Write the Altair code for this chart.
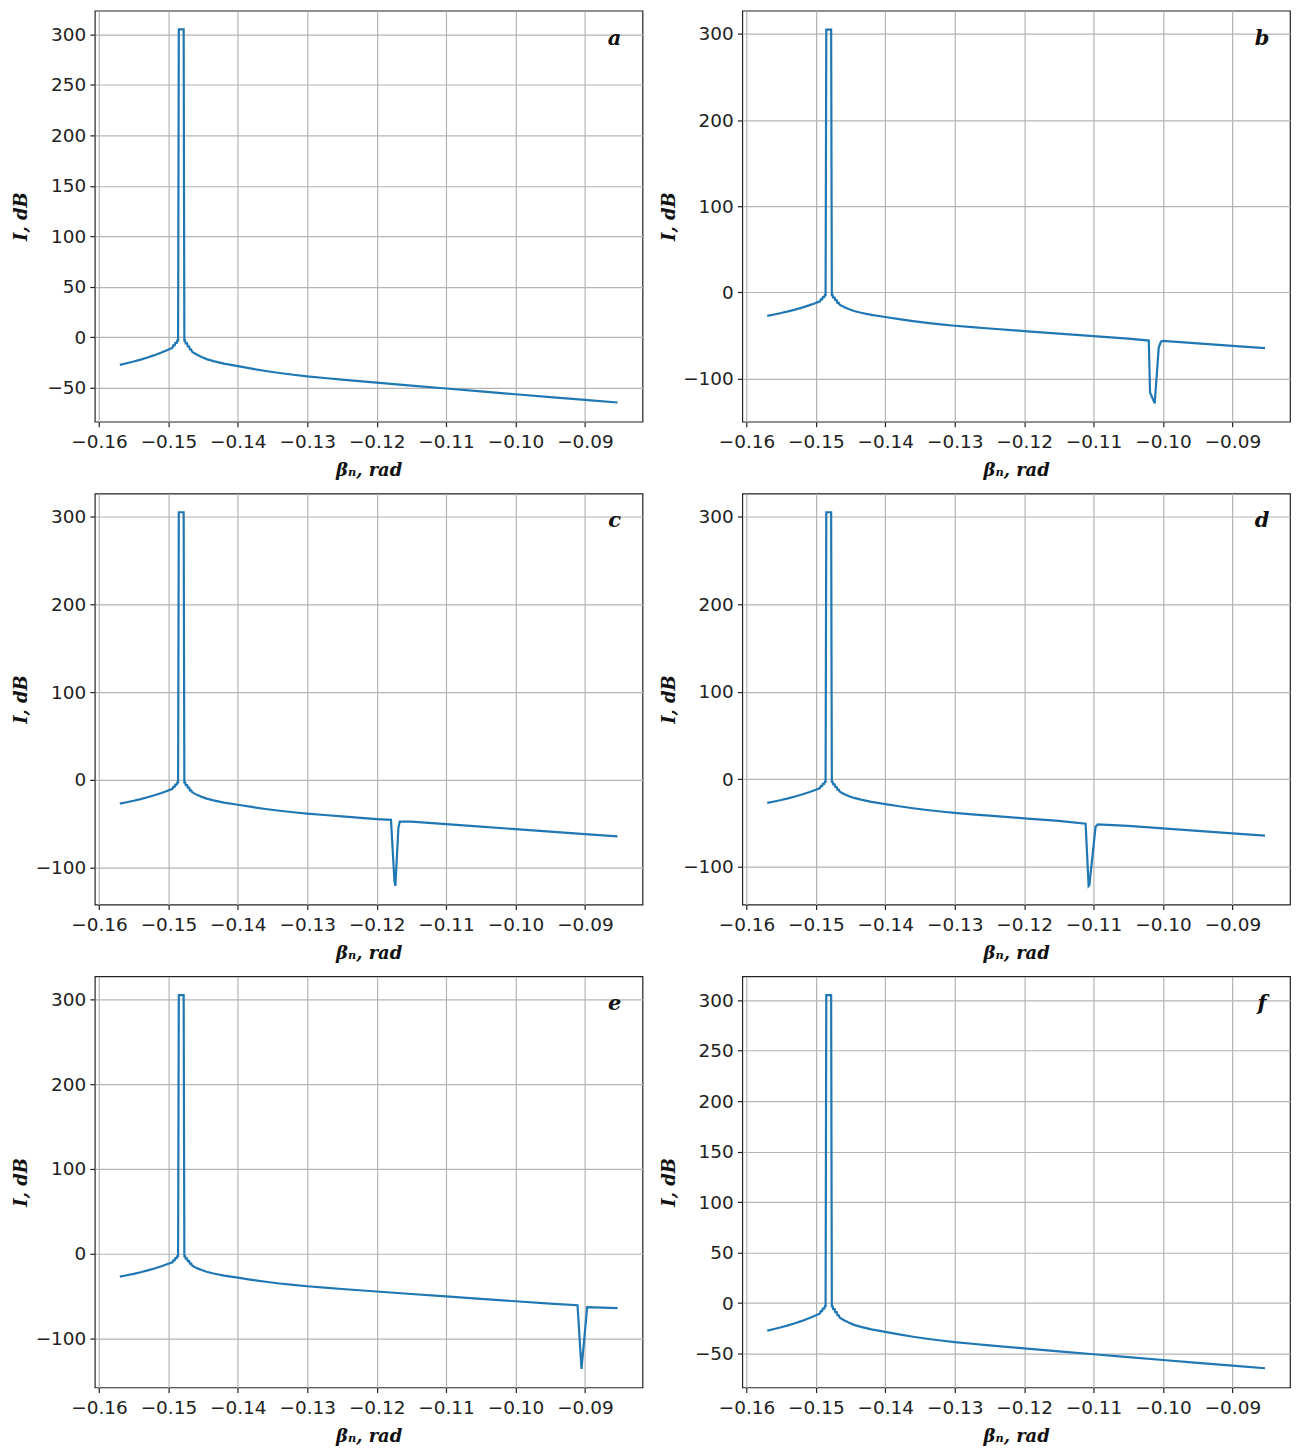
import altair as alt
import pandas as pd

# ---- data ----
left_x = [-0.1570, -0.1560, -0.1550, -0.1540, -0.1530, -0.1520, -0.1510, -0.1503,
          -0.1498, -0.1494, -0.1493, -0.1491, -0.1490, -0.1488, -0.1487, -0.1486]
left_y = [-27.2, -25.6, -23.9, -22.0, -19.9, -17.6, -15.0, -13.0,
          -11.5, -10.3, -8.0, -8.0, -5.5, -5.5, -3.0, -3.0]
peak_x = [-0.1485, -0.1478]
peak_y = [305.0, 305.0]
right_x = [-0.1477, -0.1476, -0.1475, -0.1473, -0.1472, -0.1470, -0.1469, -0.1467,
           -0.1466, -0.1463, -0.1458, -0.1452, -0.1445, -0.1435, -0.1420, -0.1400,
           -0.1380, -0.1360, -0.1340, -0.1320, -0.1300, -0.1275, -0.1250, -0.1200,
           -0.1150, -0.1100, -0.1050, -0.1000, -0.0950, -0.0900, -0.0853]
right_y = [-3.0, -3.0, -6.0, -6.0, -9.0, -9.0, -12.0, -12.0,
           -14.0, -15.5, -17.5, -19.5, -21.5, -23.5, -26.0, -28.5,
           -31.0, -33.3, -35.3, -37.0, -38.6, -40.2, -41.8, -44.8,
           -47.7, -50.6, -53.5, -56.3, -59.1, -61.9, -64.5]

dip_b_x = [-0.10204, -0.10186, -0.10119, -0.10061, -0.10029]
dip_b_y = [-55.8, -116.0, -128.7, -64.0, -57.0]
dip_c_x = [-0.11793, -0.11744, -0.11730, -0.11686, -0.11667]
dip_c_y = [-45.7, -115.0, -121.0, -54.4, -47.6]
dip_d_x = [-0.11114, -0.11071, -0.11060, -0.10971, -0.10937]
dip_d_y = [-51.0, -122.0, -121.0, -54.5, -51.8]
dip_e_x = [-0.09106, -0.09049, -0.08967]
dip_e_y = [-61.0, -136.0, -63.3]

panel_letters = ["a", "b", "c", "d", "e", "f"]
y_domains = [[-83.5, 323.5], [-150, 327], [-142.3, 326.3],
             [-143.4, 326.4], [-158, 327], [-83.5, 323.5]]
y_ticks_fine = [-50, 0, 50, 100, 150, 200, 250, 300]
y_ticks_coarse = [-100, 0, 100, 200, 300]
x_ticks = [-0.16, -0.15, -0.14, -0.13, -0.12, -0.11, -0.10, -0.09]
x_domain = [-0.1606, -0.0817]

W, H = 549, 412
SERIF = "DejaVu Serif"


def series(dx=None, dy=None):
    rx, ry = list(right_x), list(right_y)
    if dx:
        lo, hi = min(dx), max(dx)
        pts = [(x, y) for x, y in zip(rx, ry) if not (lo <= x <= hi)]
        pts += list(zip(dx, dy))
        pts.sort(key=lambda p: p[0])
        rx = [p[0] for p in pts]
        ry = [p[1] for p in pts]
    xs = left_x + peak_x + rx
    ys = left_y + peak_y + ry
    return pd.DataFrame({"x": xs, "y": ys, "i": list(range(len(xs)))})


dips = [(None, None), (dip_b_x, dip_b_y), (dip_c_x, dip_c_y),
        (dip_d_x, dip_d_y), (dip_e_x, dip_e_y), (None, None)]


def panel(k):
    df = series(*dips[k])
    yt = y_ticks_fine if k in (0, 5) else y_ticks_coarse
    line = alt.Chart(df).mark_line(color="#1f77b4", strokeWidth=2.2, clip=True).encode(
        x=alt.X("x:Q",
                scale=alt.Scale(domain=x_domain, nice=False, zero=False),
                axis=alt.Axis(values=x_ticks, format=".2f", title="βₙ, rad",
                              titleY=40)),
        y=alt.Y("y:Q",
                scale=alt.Scale(domain=y_domains[k], nice=False, zero=False),
                axis=alt.Axis(values=yt, format="d", title="I, dB", titleX=-64)),
        order="i:Q",
    )
    lbl = alt.Chart(pd.DataFrame({"t": [panel_letters[k]]})).mark_text(
        font=SERIF, fontSize=21, fontWeight="bold", fontStyle="italic",
        color="#111", align="center", baseline="middle",
    ).encode(text="t:N", x=alt.value(W - 28), y=alt.value(28))
    return alt.layer(line, lbl).properties(width=W, height=H)


rows = [alt.hconcat(panel(2 * r), panel(2 * r + 1), spacing=16) for r in range(3)]
chart = alt.vconcat(*rows, spacing=12).properties(
    padding={"left": 4, "top": 0, "right": 0, "bottom": 0}
).configure_view(
    stroke="#222", strokeWidth=1.2
).configure_axis(
    domain=False,
    grid=True, gridColor="#b4b4b4", gridWidth=1.2,
    ticks=True, tickColor="#222", tickSize=5, tickWidth=1.2,
    labelFont="DejaVu Sans", labelFontSize=18.5, labelColor="#222",
    titleFont=SERIF, titleFontWeight="bold", titleFontStyle="italic",
    titleColor="#111", titleFontSize=18,
).configure_axisX(
    labelPadding=6
).configure_axisY(
    labelPadding=4
)

chart.save("out.html", embed_options={"renderer": "svg", "actions": False})
